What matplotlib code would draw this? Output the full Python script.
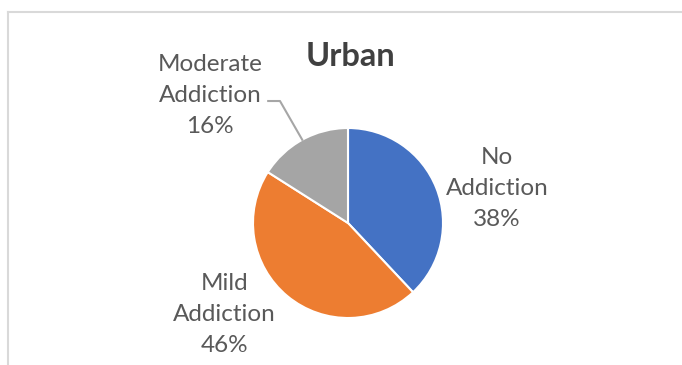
import numpy as np
import matplotlib
matplotlib.use('Agg')
import matplotlib.pyplot as plt
from matplotlib.lines import Line2D

# Urban respondents by addiction level
categories = ['No\nAddiction', 'Mild\nAddiction', 'Moderate\nAddiction']
shares = [38, 46, 16]
colors = ['#4472C4', '#ED7D31', '#A5A5A5']

# label centres, in pie radius units
label_pos = [(1.57, 0.36), (-1.30, -0.96), (-1.45, 1.34)]

plt.rcParams['font.family'] = ['Lato', 'DejaVu Sans']

W, H = 682, 365
fig = plt.figure(figsize=(W / 100, H / 100), dpi=100)

# chart frame (top and left edges only)
fig.add_artist(Line2D([8 / W, 1], [1 - 12 / H, 1 - 12 / H], color='#d9d9d9', lw=1.5))
fig.add_artist(Line2D([8 / W, 8 / W], [0, 1 - 12 / H], color='#d9d9d9', lw=1.5))

cx, cy, r = 348, 223, 95
ax = fig.add_axes([(cx - r) / W, (H - cy - r) / H, 2 * r / W, 2 * r / H])

wedges, _ = ax.pie(shares, colors=colors, startangle=90, counterclock=False,
                   radius=1, wedgeprops=dict(edgecolor='white', linewidth=1.5))
ax.set_xlim(-1, 1)
ax.set_ylim(-1, 1)
ax.set_aspect('equal')

for cat, val, (x, y) in zip(categories, shares, label_pos):
    ax.text(x, y, f'{cat}\n{val}%', ha='center', va='center', fontsize=17.5,
            color='#595959', linespacing=1.6, clip_on=False)

# leader line for the small slice
w = wedges[2]
mid = np.deg2rad((w.theta1 + w.theta2) / 2)
ex, ey = np.cos(mid), np.sin(mid)
ax.add_line(Line2D([-0.84, -0.716, ex], [1.284, 1.284, ey], color='#a6a6a6', lw=1.5,
                   clip_on=False))

fig.text(350 / W, 1 - 57 / H, 'Urban', ha='center', va='center', fontsize=23.5,
         fontweight='bold', color='#404040')

fig.savefig('out.png', dpi=100)
